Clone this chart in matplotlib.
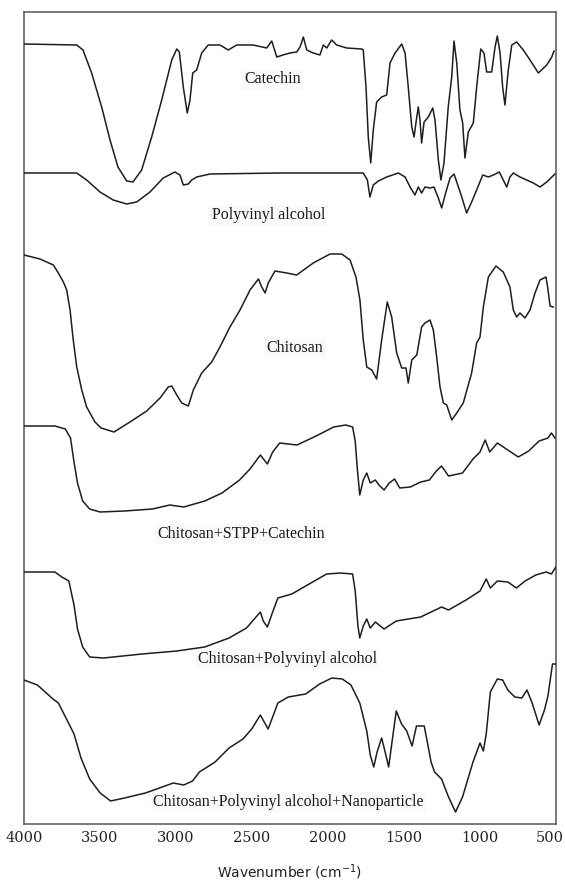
import matplotlib
matplotlib.use("Agg")
import matplotlib.pyplot as plt
from matplotlib.transforms import ScaledTranslation

# ---- data (wavenumber cm-1, stacked transmittance in arbitrary units) ----
catechin_wn = [4000, 3653, 3612, 3555, 3489, 3434, 3382, 3324, 3283, 3226, 3160, 3094, 3028, 2995,
               2978, 2952, 2926, 2908, 2890, 2864, 2831, 2788, 2711, 2656, 2601, 2493, 2403, 2370,
               2337, 2296, 2250, 2206, 2184, 2162, 2140, 2097, 2053, 2031, 2008, 1976, 1943, 1877,
               1778, 1768, 1750, 1735, 1719, 1702, 1680, 1647, 1614, 1592, 1559, 1515, 1493, 1472,
               1449, 1434, 1416, 1406, 1395, 1384, 1368, 1340, 1311, 1296, 1274, 1257, 1237, 1209,
               1186, 1171, 1153, 1132, 1114, 1099, 1077, 1044, 1022, 995, 974, 956, 923, 901, 886,
               868, 851, 836, 814, 791, 759, 715, 671, 616, 561, 528, 513]
catechin_t = [780, 779, 774, 751, 717, 684, 657, 643, 642, 654, 687, 724, 764, 775,
              772, 737, 711, 724, 751, 754, 771, 779, 779, 774, 779, 779, 776, 783,
              767, 769, 771, 772, 777, 787, 774, 771, 769, 779, 776, 784, 779, 776,
              775, 774, 737, 687, 661, 694, 722, 727, 729, 761, 771, 780, 771, 737,
              697, 687, 707, 717, 704, 681, 702, 707, 716, 704, 664, 644, 661, 717,
              747, 783, 761, 714, 701, 666, 692, 701, 737, 775, 771, 752, 752, 777, 788,
              771, 737, 719, 754, 779, 782, 774, 764, 751, 759, 767, 773]

pva_wn = [4000, 3653, 3588, 3500, 3413, 3324, 3259, 3171, 3084, 3007, 2974, 2952, 2919, 2897,
          2864, 2776, 2316, 1768, 1741, 1724, 1702, 1669, 1614, 1537, 1493, 1460, 1428, 1406,
          1384, 1362, 1329, 1303, 1274, 1252, 1226, 1197, 1171, 1153, 1120, 1088, 1055, 1022,
          982, 945, 912, 873, 847, 824, 803, 781, 737, 649, 605, 561, 507]
pva_t = [651, 651, 644, 632, 624, 620, 622, 632, 646, 652, 649, 639, 640, 644,
         647, 650, 651, 651, 644, 627, 639, 643, 647, 651, 647, 637, 629, 637,
         631, 637, 636, 637, 626, 616, 631, 646, 650, 642, 627, 611, 622, 634,
         649, 647, 649, 652, 644, 637, 647, 651, 647, 641, 637, 642, 650]

chitosan_wn = [4000, 3895, 3807, 3774, 3741, 3719, 3697, 3676, 3653, 3620, 3588, 3533, 3493, 3408,
               3303, 3193, 3105, 3051, 3028, 2995, 2962, 2919, 2886, 2831, 2765, 2711, 2645, 2579,
               2513, 2458, 2436, 2414, 2393, 2349, 2272, 2206, 2097, 1987, 1910, 1855, 1816, 1790,
               1768, 1745, 1712, 1680, 1647, 1610, 1581, 1548, 1515, 1487, 1472, 1449, 1416, 1384,
               1362, 1329, 1307, 1285, 1263, 1241, 1219, 1186, 1153, 1110, 1055, 1022, 1000, 978,
               945, 895, 847, 803, 781, 759, 737, 704, 671, 638, 605, 566, 555, 539, 518]
chitosan_t = [569, 565, 559, 551, 542, 534, 514, 484, 457, 434, 417, 402, 396, 392,
              402, 413, 426, 437, 438, 429, 421, 418, 434, 451, 462, 477, 497, 514,
              534, 545, 537, 531, 541, 553, 551, 549, 561, 570, 570, 564, 547, 524,
              484, 457, 454, 445, 484, 522, 507, 471, 456, 456, 441, 464, 469, 497,
              501, 504, 494, 467, 437, 421, 419, 404, 411, 421, 451, 481, 487, 517,
              547, 558, 552, 537, 514, 507, 511, 506, 514, 531, 544, 547, 537, 518, 517]

stpp_wn = [4000, 3797, 3728, 3694, 3671, 3648, 3614, 3568, 3499, 3339, 3155, 3041, 2949, 2811,
           2697, 2582, 2513, 2445, 2399, 2364, 2318, 2204, 2078, 1963, 1883, 1838, 1821, 1807,
           1791, 1768, 1745, 1722, 1688, 1665, 1631, 1597, 1562, 1528, 1459, 1390, 1333, 1287,
           1253, 1207, 1115, 1046, 1000, 966, 936, 886, 817, 748, 680, 611, 553, 530, 507]
stpp_t = [398, 398, 395, 386, 362, 341, 323, 315, 312, 313, 315, 319, 317, 323,
          331, 344, 355, 369, 360, 372, 381, 379, 388, 397, 399, 397, 383, 355,
          329, 344, 351, 341, 344, 339, 334, 341, 345, 336, 337, 342, 344, 353,
          358, 348, 351, 365, 372, 384, 372, 381, 374, 367, 373, 383, 386, 391, 386]

cspva_wn = [4000, 3797, 3751, 3705, 3671, 3648, 3614, 3568, 3476, 3224, 2995, 2811, 2651, 2536,
            2445, 2426, 2399, 2364, 2330, 2238, 2124, 2009, 1917, 1838, 1821, 1803, 1791, 1768,
            1745, 1722, 1688, 1631, 1551, 1390, 1253, 1207, 1092, 1000, 959, 932, 886, 817,
            760, 703, 633, 565, 530, 501]
cspva_t = [252, 252, 247, 243, 219, 195, 177, 167, 166, 170, 173, 177, 186, 196,
           212, 203, 197, 212, 226, 230, 240, 250, 251, 250, 233, 198, 186, 198,
           205, 196, 202, 195, 203, 207, 217, 214, 224, 233, 245, 236, 243, 242,
           236, 243, 249, 252, 250, 257]

nano_wn = [4000, 3912, 3809, 3774, 3717, 3671, 3625, 3568, 3499, 3430, 3339, 3201, 3109, 3018,
           2949, 2891, 2846, 2743, 2651, 2559, 2502, 2445, 2394, 2364, 2330, 2261, 2147, 2055,
           1975, 1906, 1849, 1791, 1745, 1722, 1699, 1677, 1647, 1624, 1601, 1578, 1551, 1516,
           1482, 1447, 1418, 1367, 1344, 1322, 1299, 1253, 1207, 1161, 1115, 1046, 1000, 978,
           959, 932, 886, 851, 817, 771, 725, 691, 657, 611, 576, 553, 523, 500]
nano_t = [144, 139, 125, 121, 104, 90, 66, 45, 31, 23, 26, 31, 36, 41,
          39, 43, 52, 62, 76, 85, 95, 109, 95, 107, 121, 127, 130, 140,
          146, 145, 139, 121, 93, 69, 57, 72, 86, 72, 57, 83, 113, 100,
          93, 78, 98, 98, 80, 62, 52, 45, 27, 12, 27, 62, 81, 73,
          90, 132, 145, 144, 134, 127, 126, 134, 121, 99, 114, 128, 160, 160]

labels = ["Catechin", "Polyvinyl alcohol", "Chitosan", "Chitosan+STPP+Catechin",
          "Chitosan+Polyvinyl alcohol", "Chitosan+Polyvinyl alcohol+Nanoparticle"]
label_wn = [2362, 2391, 2217, 2572, 2267, 2261]
label_t = [745, 609, 476, 290, 165, 22]

xticks = [4000, 3500, 3000, 2500, 2000, 1500, 1000, 500]
xtick_labels = ["4000", "3500", "3000", "2500", "2000", "1500", "1000", "500"]

# ---- figure ----
fig = plt.figure(figsize=(5.65, 8.85), dpi=100)
ax = fig.add_axes([24 / 565, 61 / 885, 532 / 565, 812 / 885])

series = [(catechin_wn, catechin_t), (pva_wn, pva_t), (chitosan_wn, chitosan_t),
          (stpp_wn, stpp_t), (cspva_wn, cspva_t), (nano_wn, nano_t)]
for wn, t in series:
    ax.plot(wn, t, color="#1e1e1e", lw=1.1, solid_joinstyle="round", zorder=3)

for lab, lx, ly in zip(labels, label_wn, label_t):
    ax.text(lx, ly, lab, ha="center", va="center", fontsize=11.5,
            family="Liberation Serif", color="#1a1a1a", zorder=2,
            bbox=dict(boxstyle="square,pad=0.15", fc="#fafafa", ec="none"))

ax.set_xlim(4000, 500)
ax.set_ylim(0, 812)
ax.set_yticks([])
ax.set_xticks(xticks)
ax.set_xticklabels(xtick_labels, family="DejaVu Serif", fontsize=10.5, color="#222222")
ax.tick_params(axis="x", length=0, pad=5)
last = ax.get_xticklabels()[-1]
last.set_ha("right")
last.set_transform(last.get_transform() + ScaledTranslation(0.075, 0, fig.dpi_scale_trans))
for s in ax.spines.values():
    s.set_color("#555555")
    s.set_linewidth(1.1)

fig.text(290 / 565, 1 - 872 / 885, "Wavenumber (cm$^{-1}$)", ha="center", va="center",
         fontsize=10, family="DejaVu Sans", color="#222222")

fig.savefig("out.png", dpi=100)
